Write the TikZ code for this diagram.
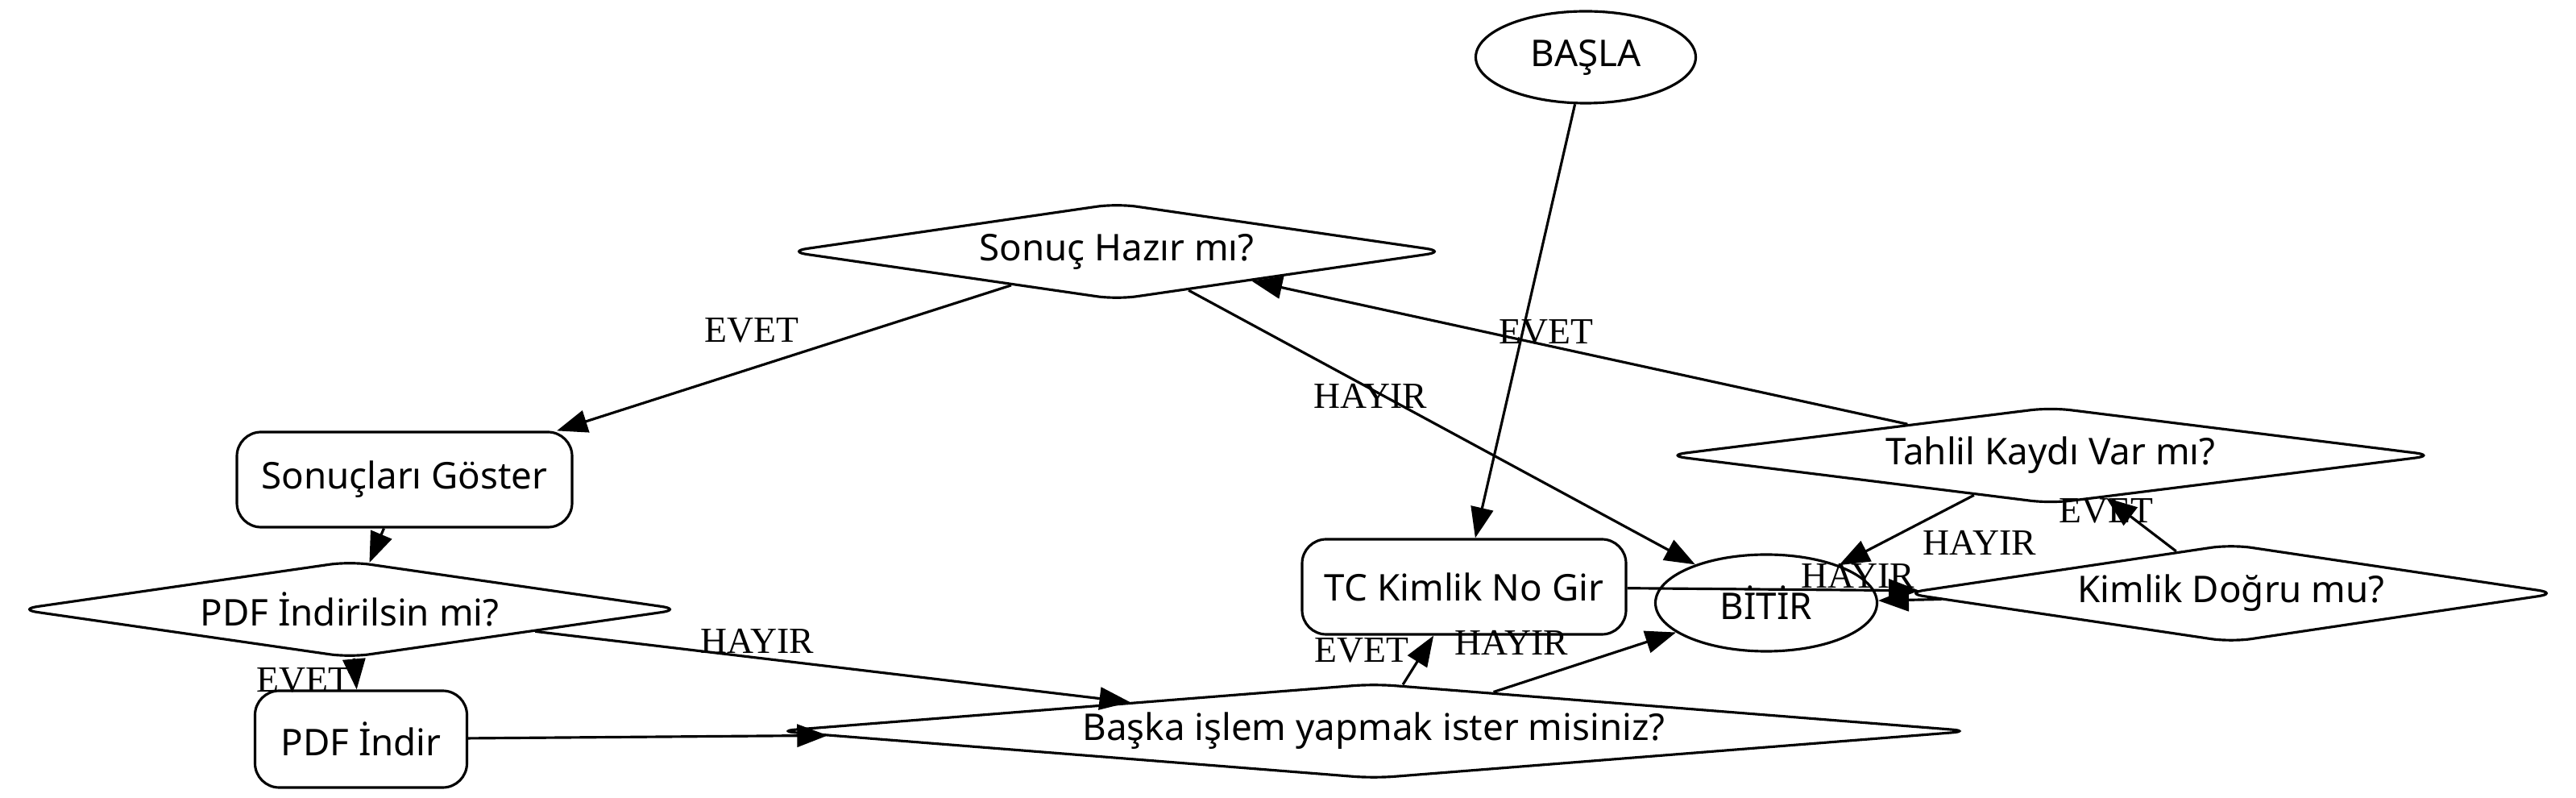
\documentclass[tikz,border=0pt]{standalone}
\usepackage{fontspec}
\setmainfont{Liberation Serif}
\newfontfamily\kutufont{Noto Sans}
\usetikzlibrary{arrows.meta,shapes.geometric}

\begin{document}
\begin{tikzpicture}[
  >={Triangle[length=3.8mm, width=2.8mm]},
  line width=0.9pt,
  uc/.style={draw, ellipse, inner sep=0pt, font=\kutufont\fontsize{13}{15}\selectfont},
  islem/.style={draw, rectangle, rounded corners=3mm, inner sep=0pt, font=\kutufont\fontsize{13}{15}\selectfont},
  karar/.style={draw, diamond, rounded corners=2.5mm, inner sep=0pt, font=\kutufont\fontsize{13}{15}\selectfont},
  etiket/.style={inner sep=0pt, font=\fontsize{13}{15}\selectfont},
  ok/.style={->}
]

  \useasboundingbox (0,0) rectangle (31.97,9.90);

  % ----------------------------------------------------
  % Nodes
  % ----------------------------------------------------
  \node[uc, minimum width=2.73cm, minimum height=1.14cm] (basla) at (19.68, 9.19) {BAŞLA};
  \node[uc, minimum width=2.75cm, minimum height=1.20cm] (bitir) at (21.92, 2.42) {BİTİR};

  \node[islem, minimum width=4.16cm, minimum height=1.18cm] (goster) at (5.02, 3.95) {Sonuçları Göster};
  \node[islem, minimum width=2.63cm, minimum height=1.20cm] (pdfindir) at (4.48, 0.73) {PDF İndir};
  \node[islem, minimum width=4.02cm, minimum height=1.18cm] (tcno) at (18.17, 2.62) {TC Kimlik No Gir};

  \node[karar, shape aspect=6.92, minimum width=8.19cm, minimum height=1.20cm] (sonuc) at (13.86, 6.78) {Sonuç Hazır mı?};
  \node[karar, shape aspect=6.97, minimum width=8.25cm, minimum height=1.20cm] (pdfsor) at (4.34, 2.34) {PDF İndirilsin mi?};
  \node[karar, shape aspect=13.0, minimum width=14.84cm, minimum height=1.18cm] (baska) at (17.05, 0.83) {Başka işlem yapmak ister misiniz?};
  \node[karar, shape aspect=8.12, minimum width=9.56cm, minimum height=1.20cm] (tahlil) at (25.45, 4.25) {Tahlil Kaydı Var mı?};
  \node[karar, shape aspect=6.73, minimum width=8.13cm, minimum height=1.22cm] (kimlik) at (27.69, 2.54) {Kimlik Doğru mu?};

  % ----------------------------------------------------
  % Connectors
  % ----------------------------------------------------
  \draw[ok] (basla) -- (tcno);
  \draw[ok] (tcno) -- (kimlik);
  \draw[ok] (kimlik) -- (tahlil);
  \draw[ok] (kimlik) -- (bitir);
  \draw[ok] (tahlil) -- (sonuc);
  \draw[ok] (tahlil) -- (bitir);
  \draw[ok] (sonuc) -- (goster);
  \draw[ok] (sonuc) -- (bitir);
  \draw[ok] (goster) -- (pdfsor);
  \draw[ok] (pdfsor) -- (pdfindir);
  \draw[ok] (pdfsor) -- (baska);
  \draw[ok] (pdfindir) -- (baska);
  \draw[ok] (baska) -- (tcno);
  \draw[ok] (baska) -- (bitir);

  % ----------------------------------------------------
  % Labels
  % ----------------------------------------------------
  \node[etiket] (e1) at (9.33, 5.80) {EVET};
  \node[etiket] (h1) at (17.01, 4.99) {HAYIR};
  \node[etiket] (e2) at (19.19, 5.78) {EVET};
  \node[etiket] (h2) at (24.57, 3.17) {HAYIR};
  \node[etiket] (e3) at (26.14, 3.56) {EVET};
  \node[etiket] (h3) at (23.06, 2.76) {HAYIR};
  \node[etiket] (h4) at (9.40, 1.95) {HAYIR};
  \node[etiket] (e4) at (3.77, 1.46) {EVET};
  \node[etiket] (e5) at (16.90, 1.83) {EVET};
  \node[etiket] (h5) at (18.76, 1.93) {HAYIR};

\end{tikzpicture}
\end{document}
